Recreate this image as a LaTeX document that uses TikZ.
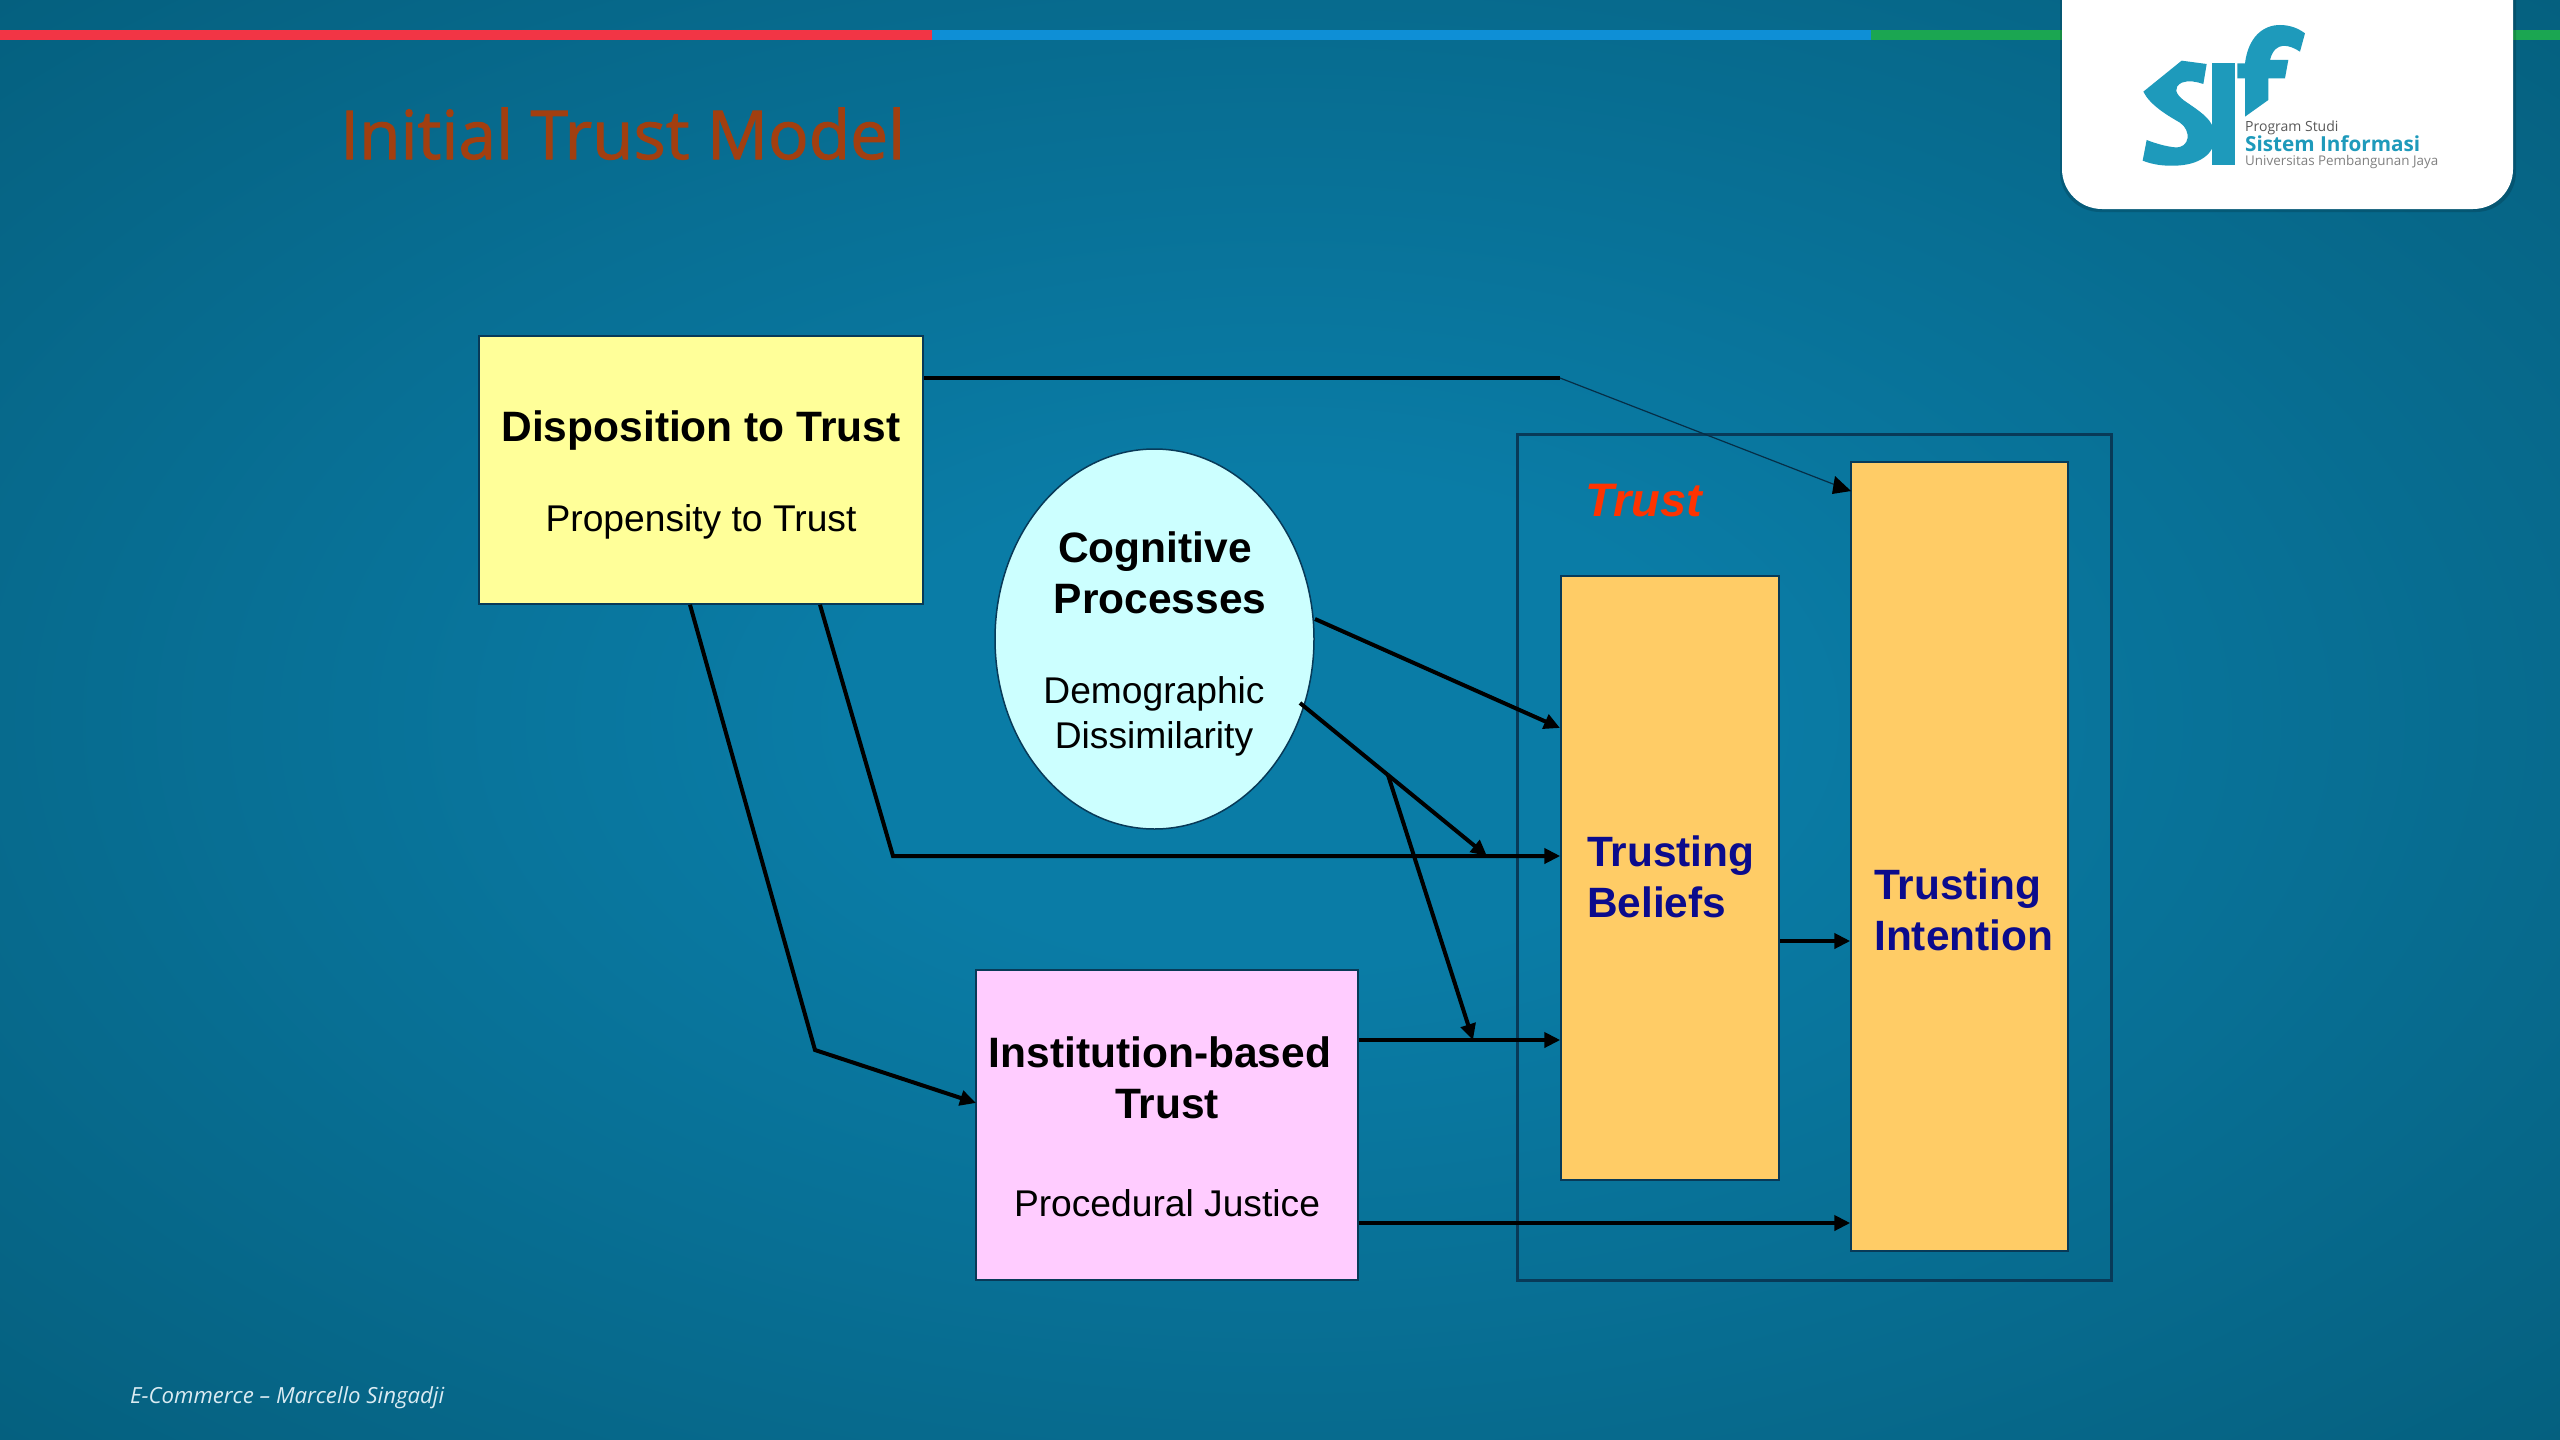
\documentclass[tikz,border=0pt]{standalone}
\usepackage{fontspec}
\setmainfont{Liberation Sans}
\newfontfamily\opensans{Open Sans}
\newfontfamily\titlefont[FakeBold=1.5]{Open Sans}
\usetikzlibrary{arrows.meta,shapes.geometric,calc}
\definecolor{bgin}{HTML}{0A7CA6}
\definecolor{bgout}{HTML}{05607F}
\definecolor{barred}{HTML}{F23545}
\definecolor{barblue}{HTML}{0E8FD6}
\definecolor{bargreen}{HTML}{1BA651}
\definecolor{logoteal}{HTML}{1E9ABB}
\definecolor{titlecol}{HTML}{A23F10}
\definecolor{navy}{HTML}{0B0B8C}
\definecolor{edgecol}{HTML}{083A58}
\definecolor{trustred}{HTML}{FF3300}
\definecolor{fillyellow}{HTML}{FFFF99}
\definecolor{fillpink}{HTML}{FFCCFF}
\definecolor{fillcyan}{HTML}{CCFFFF}
\definecolor{fillorange}{HTML}{FFCC66}
\pgfdeclareradialshading{bgshade}{\pgfpointorigin}{color(0bp)=(bgin);color(8.5bp)=(bgin);color(35.4bp)=(bgout);color(100bp)=(bgout)}
\tikzset{
  x=1pt,y=-1pt,
  boxnode/.style={draw=edgecol,line width=1.5pt,inner sep=0pt},
  head/.style={font=\fontsize{42.5}{42.5}\selectfont\bfseries,anchor=base,inner sep=0pt,text=black},
  sub/.style={font=\fontsize{37.2}{37.2}\selectfont,anchor=base,inner sep=0pt,text=black},
  blue text/.style={font=\fontsize{42.4}{42.4}\selectfont\bfseries,anchor=base west,inner sep=0pt,text=navy},
  link/.style={draw=black,line width=4pt,line join=miter},
  tip/.style={-{Triangle[length=16pt,width=15pt]}},
  logotext/.style={anchor=base west,inner sep=0pt},
}
\begin{document}
\begin{tikzpicture}
\useasboundingbox (0,0) rectangle (2560,1440);
% background
\shade[shading=bgshade] (0,0) rectangle (2560,1440);
% top bars
\fill[barred] (0,30) rectangle (932,40);
\fill[barblue] (932,30) rectangle (1871,40);
\fill[bargreen] (1871,30) rectangle (2560,40);
% logo card
\fill[black,opacity=.15] (2060,0) -- (2516,0) -- (2516,172) arc[start angle=0,end angle=90,radius=40] -- (2100,212) arc[start angle=90,end angle=180,radius=40] -- cycle;
\fill[white] (2062,0) -- (2513,0) -- (2513,169) arc[start angle=0,end angle=90,radius=40] -- (2102,209) arc[start angle=90,end angle=180,radius=40] -- cycle;
\begin{scope}[shift={(2040,0)},x=0.3333pt,y=-0.3333pt]
\fill[logoteal] (500,192) -- (425,182) -- (310,275) .. controls (330,315) and (380,345) .. (420,368) .. controls (455,392) and (450,445) .. (405,442) .. controls (380,440) and (345,430) .. (320,420) -- (308,482) .. controls (340,495) and (375,498) .. (400,497) .. controls (480,497) and (525,460) .. (525,410) .. controls (525,360) and (480,335) .. (430,300) .. controls (405,280) and (400,262) .. (425,248) .. controls (445,240) and (470,245) .. (490,252) -- cycle;
\fill[logoteal] (515,190) rectangle (585,495);
\fill[logoteal] (592,190) -- (615,190) .. controls (625,110) and (670,75) .. (720,75) .. controls (750,75) and (775,85) .. (795,100) -- (780,155) .. controls (750,135) and (705,120) .. (690,180) -- (745,180) -- (735,235) -- (685,235) -- (685,300) -- (615,350) -- (615,235) -- (592,235) -- cycle;
\end{scope}
\node[logotext,text=black!65] (lg1) at (2245,131) {\opensans\fontsize{14}{14}\selectfont Program Studi};
\node[logotext,text=logoteal] (lg2) at (2245,151) {\opensans\bfseries\fontsize{20.7}{20.7}\selectfont Sistem Informasi};
\node[logotext,text=black!50] (lg3) at (2245,165) {\opensans\fontsize{13.4}{13.4}\selectfont Universitas Pembangunan Jaya};
% title and footer
\node[anchor=base west,inner sep=0pt,text=titlecol] (title) at (340,159) {\titlefont\fontsize{67.5}{67.5}\selectfont Initial Trust Model};
\node[anchor=base west,inner sep=0pt,text=white!85!bgin] (foot) at (130,1403) {\opensans\itshape\fontsize{22.2}{22.2}\selectfont E-Commerce – Marcello Singadji};
% trust group
\node[draw=edgecol,line width=3pt,minimum width=594pt,minimum height=846pt,inner sep=0pt] (group) at (1814,857) {};
% boxes
\node[boxnode,fill=fillyellow,minimum width=444pt,minimum height=268pt] (disp) at (701,470) {};
\node[boxnode,fill=fillpink,minimum width=382pt,minimum height=310pt] (inst) at (1167,1125) {};
\node[boxnode,ellipse,fill=fillcyan,minimum width=319pt,minimum height=380pt] (cog) at (1154.5,639) {};
\node[boxnode,fill=fillorange,minimum width=218pt,minimum height=604pt] (beliefs) at (1670,878) {};
\node[boxnode,fill=fillorange,minimum width=217pt,minimum height=789pt] (intent) at (1959.5,856.5) {};
% texts
\node[head] (t1) at (701,441) {Disposition to Trust};
\node[sub] (t2) at (701,531) {Propensity to Trust};
\node[head] (t3) at (1155,562) {Cognitive};
\node[head] (t4) at (1160,613) {Processes};
\node[sub] (t5) at (1154,703) {Demographic};
\node[sub] (t6) at (1154,748) {Dissimilarity};
\node[head] (t7) at (1160,1067) {Institution-based};
\node[head] (t8) at (1167,1118) {Trust};
\node[sub] (t9) at (1167,1216) {Procedural Justice};
\node[blue text] (t10) at (1587,866) {Trusting};
\node[blue text] (t11) at (1587,917) {Beliefs};
\node[blue text] (t12) at (1874,899) {Trusting};
\node[blue text] (t13) at (1874,950) {Intention};
\node[anchor=base west,inner sep=0pt,text=trustred] (t14) at (1585,516) {\fontsize{47}{47}\selectfont\bfseries\itshape Trust};
% connector waypoints
\coordinate (kA) at (1560,378);
\coordinate (endA) at (1851,491);
\coordinate (kB) at (815,1050);
\coordinate (sB) at (690,0);
\coordinate (endB) at (976,1103);
\coordinate (kC) at (893,856);
\coordinate (sC) at (820,0);
\coordinate (sD) at (1315,619);
\coordinate (endD) at (1560,728);
\coordinate (sE) at (1300,703);
\coordinate (kE) at (1388,775);
\coordinate (tE1) at (1487,856);
\coordinate (tE2) at (1473,1040);
\coordinate (yF) at (0,1040);
\coordinate (yG) at (0,1223);
\coordinate (yH) at (0,941);
% connectors
\draw[link] (disp.east |- kA) -- (kA);
\draw[draw=edgecol!80!black,line width=1.2pt] (kA) -- (endA);
\fill[black] (endA) -- ++(-16,-15) -- ++(-3,18) -- cycle;
\draw[link,tip] (disp.south -| sB) -- (kB) -- (endB);
\draw[link,tip] (disp.south -| sC) -- (kC) -- (beliefs.west |- kC);
\draw[link,tip] (sD) -- (endD);
\draw[link] (sE) -- (kE);
\draw[link,tip] (kE) -- (tE1);
\draw[link,tip] (kE) -- (tE2);
\draw[link,tip] (inst.east |- yF) -- (beliefs.west |- yF);
\draw[link,tip] (inst.east |- yG) -- (intent.west |- yG);
\draw[link,tip] (beliefs.east |- yH) -- (intent.west |- yH);
\end{tikzpicture}
\end{document}
